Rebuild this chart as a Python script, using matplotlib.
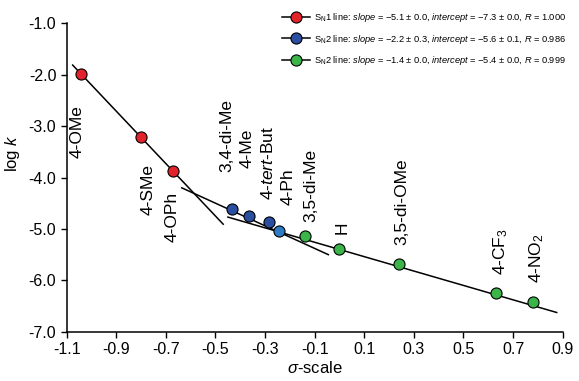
import numpy as np
import matplotlib
matplotlib.use("Agg")
import matplotlib.pyplot as plt
from matplotlib.ticker import FormatStrFormatter, MultipleLocator

plt.rcParams["font.family"] = ["Liberation Sans", "DejaVu Sans"]
plt.rcParams["mathtext.fontset"] = "custom"
plt.rcParams["mathtext.rm"] = "Liberation Sans"
plt.rcParams["mathtext.it"] = "Liberation Sans:italic"
plt.rcParams["axes.unicode_minus"] = False

# substituents, sigma values and log k
names = ["4-OMe", "4-SMe", "4-OPh", "3,4-di-Me", "4-Me", r"4-$\it{tert}$-But", "4-Ph",
         "3,5-di-Me", "H", "3,5-di-OMe", r"4-CF$_3$", r"4-NO$_2$"]
sigma = [-1.044, -0.802, -0.670, -0.435, -0.364, -0.284, -0.243,
         -0.139, 0.000, 0.241, 0.631, 0.781]
logk = [-1.99, -3.22, -3.87, -4.61, -4.74, -4.87, -5.04,
        -5.13, -5.39, -5.68, -6.25, -6.43]
groups = [0, 0, 0, 1, 1, 1, 1, 2, 2, 2, 2, 2]

# where each rotated label sits (x centre, bottom of text)
label_x = [-1.058, -0.772, -0.675, -0.455, -0.374, -0.290, -0.207,
           -0.114, 0.009, 0.250, 0.648, 0.795]
label_y = [-3.62, -4.73, -5.25, -3.89, -3.82, -4.44, -4.54,
           -4.86, -5.09, -5.31, -5.89, -6.06]

# fitted lines
slopes = [-5.1, -2.2, -1.4]
intercepts = [-7.3, -5.6, -5.4]
fit_x0 = [-1.076, -0.636, -0.45]
fit_x1 = [-0.469, -0.045, 0.876]
legend_labels = [
    r"S$_\mathregular{N}$1 line: $\it{slope}$ = −5.1 ± 0.0, $\it{intercept}$ = −7.3 ± 0.0, $\it{R}$ = 1.000",
    r"S$_\mathregular{N}$2 line: $\it{slope}$ = −2.2 ± 0.3, $\it{intercept}$ = −5.6 ± 0.1, $\it{R}$ = 0.986",
    r"S$_\mathregular{N}$2 line: $\it{slope}$ = −1.4 ± 0.0, $\it{intercept}$ = −5.4 ± 0.0, $\it{R}$ = 0.999",
]
group_colors = ["#e3232b", "#2a4fa0", "#3bb449"]
ph_color = "#2c7cc3"

fig = plt.figure(figsize=(5.79, 3.81), dpi=100)
ax = fig.add_axes([0.1152, 0.1294, 0.8566, 0.8094])

for g in range(3):
    xs = np.array([fit_x0[g], fit_x1[g]])
    ax.plot(xs, slopes[g] * xs + intercepts[g], color="black", lw=1.1, zorder=2)

for i in range(len(sigma)):
    c = group_colors[groups[i]]
    if names[i] == "4-Ph":
        c = ph_color
    ax.plot(sigma[i], logk[i], "o", ms=8, mfc=c, mec="black", mew=0.8, zorder=3)
    ax.text(label_x[i], label_y[i], names[i], rotation=90, ha="center", va="bottom",
            fontsize=12.5)

handles = []
for g in range(3):
    h, = ax.plot([], [], "-o", color="black", lw=1.1, ms=8,
                 mfc=group_colors[g], mec="black", mew=0.8)
    handles.append(h)
leg_size = 6.7
px = leg_size * 100 / 72
ax.legend(handles, legend_labels, loc="upper left", bbox_to_anchor=(282 / 579, 1 - 11 / 381),
          bbox_transform=fig.transFigure, frameon=False, fontsize=leg_size,
          handlelength=28 / px, handletextpad=0.45,
          labelspacing=0.93, borderaxespad=0, borderpad=0)

ax.set_xlim(-1.1, 0.9)
ax.set_ylim(-7.0, -1.0)
ax.set_xticks(np.arange(-1.1, 0.91, 0.2))
ax.yaxis.set_major_locator(MultipleLocator(1.0))
ax.xaxis.set_major_formatter(FormatStrFormatter("%.1f"))
ax.yaxis.set_major_formatter(FormatStrFormatter("%.1f"))
ax.tick_params(direction="out", length=4, width=1, labelsize=11.5, color="black")
for s in ["top", "right"]:
    ax.spines[s].set_visible(False)
for s in ["left", "bottom"]:
    ax.spines[s].set_linewidth(1.1)

ax.set_xlabel(r"$\sigma$-scale", fontsize=12, labelpad=2)
ax.set_ylabel(r"log $\it{k}$", fontsize=12)
ax.yaxis.set_label_coords(-0.09, 0.58)

fig.savefig("out.png", dpi=100)
